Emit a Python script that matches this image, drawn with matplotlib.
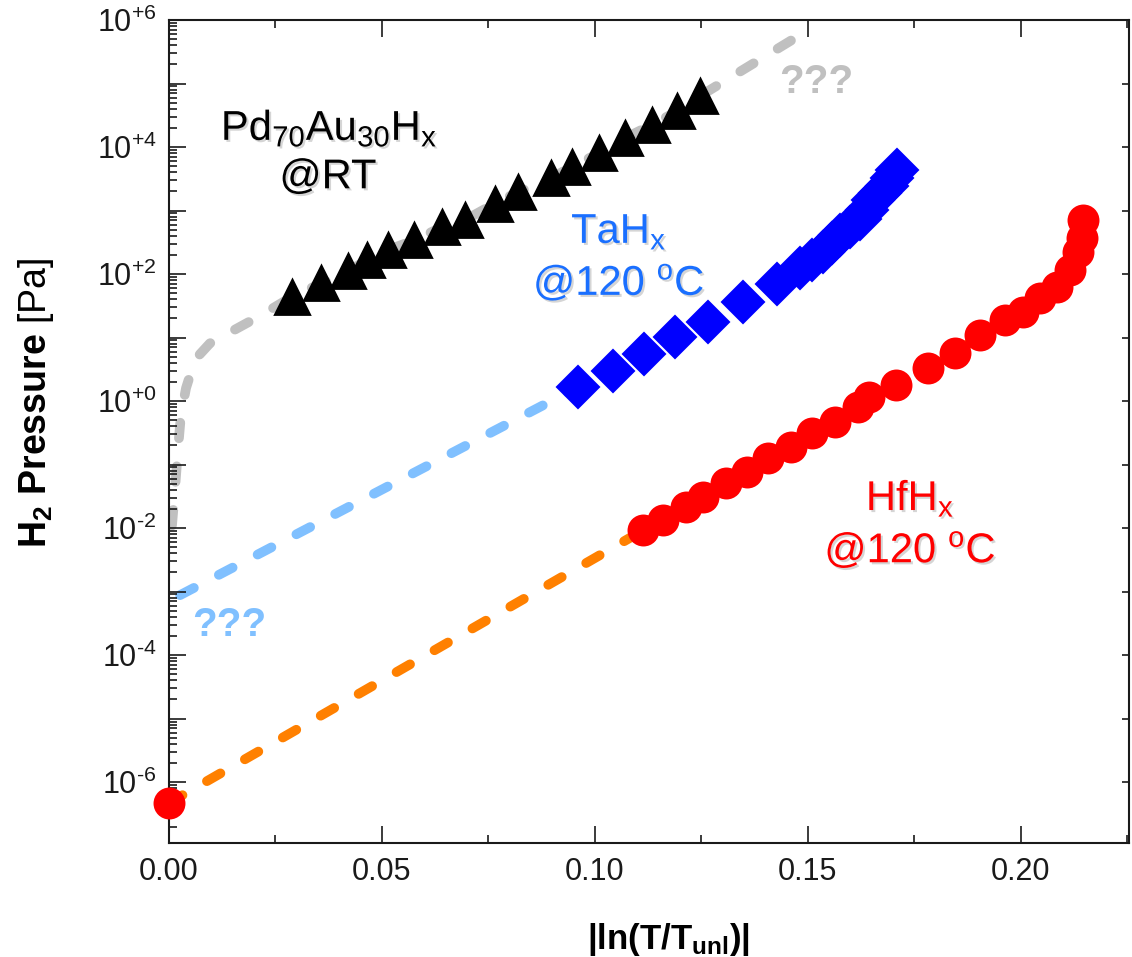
import numpy as np
import matplotlib
matplotlib.use('Agg')
import matplotlib.pyplot as plt
import matplotlib.ticker as mticker
import matplotlib.patheffects as pe

plt.rcParams['font.family'] = ['Liberation Sans', 'DejaVu Sans']
plt.rcParams['mathtext.fontset'] = 'custom'
plt.rcParams['mathtext.rm'] = 'Liberation Sans'
plt.rcParams['mathtext.bf'] = 'Liberation Sans:bold'
plt.rcParams['mathtext.it'] = 'Liberation Sans:italic'

# Pd70Au30Hx at room temperature (black triangles)
pd_x = [0.0289, 0.0357, 0.0420, 0.0465, 0.0514, 0.0575, 0.0641, 0.0695, 0.0765,
        0.0819, 0.0897, 0.0946, 0.1009, 0.1070, 0.1134, 0.1192, 0.1246]
pd_p = [44, 71, 110, 166, 240, 339, 550, 708, 1290,
        1950, 3240, 4900, 7940, 13800, 22400, 36300, 63100]
# grey guide line below and above the measured points
pd_low_x = [0.0007, 0.0014, 0.0021, 0.0028, 0.0040, 0.0061, 0.0096, 0.0148, 0.0214]
pd_low_p = [1.1e-2, 4.0e-2, 0.17, 0.60, 1.6, 4.5, 8.1, 12.6, 22]
pd_high_x = [0.1474]
pd_high_p = [5.4e5]

# TaHx at 120 C (blue diamonds)
ta_x = [0.0960, 0.1042, 0.1115, 0.1188, 0.1265, 0.1347, 0.1427, 0.1481, 0.1509, 0.1535,
        0.1556, 0.1575, 0.1599, 0.1622, 0.1638, 0.1653, 0.1669, 0.1685, 0.1697, 0.1709]
ta_p = [1.66, 2.96, 5.50, 10.2, 17.5, 36.2, 69.7, 124, 166, 222,
        308, 411, 550, 735, 1020, 1460, 1890, 2430, 3250, 4350]
ta_low_x = [0.0026]
ta_low_p = [8.8e-4]

# HfHx at 120 C (red circles)
hf_x = [0.1114, 0.1159, 0.1213, 0.1253, 0.1307, 0.1356, 0.1406, 0.1460, 0.1509, 0.1563,
        0.1617, 0.1644, 0.1707, 0.1783, 0.1846, 0.1904, 0.1963, 0.2005, 0.2045, 0.2085,
        0.2115, 0.2134, 0.2143, 0.2146]
hf_p = [9.3e-3, 1.34e-2, 2.16e-2, 3.11e-2, 5.06e-2, 7.71e-2, 0.125, 0.191, 0.310, 0.472,
        0.813, 1.17, 1.79, 3.27, 5.64, 10.9, 18.9, 25.2, 41.9, 62.4,
        116, 222, 369, 708]
hf_zero_x = [0.0]
hf_zero_p = [4.7e-7]

x_ticks = [0.00, 0.05, 0.10, 0.15, 0.20]
x_tick_labels = ['0.00', '0.05', '0.10', '0.15', '0.20']
y_ticks = [1e-6, 1e-5, 1e-4, 1e-3, 1e-2, 1e-1, 1e0, 1e1, 1e2, 1e3, 1e4, 1e5, 1e6]
y_tick_labels = [r'$\mathregular{10^{‐6}}$', '', r'$\mathregular{10^{‐4}}$', '',
                 r'$\mathregular{10^{‐2}}$', '', r'$\mathregular{10^{+0}}$', '',
                 r'$\mathregular{10^{+2}}$', '', r'$\mathregular{10^{+4}}$', '',
                 r'$\mathregular{10^{+6}}$']

fig = plt.figure(figsize=(11.32, 9.57), dpi=100)
ax = fig.add_axes([169 / 1132, 1 - 843 / 957, 960 / 1132, 823 / 957])

dash_kw = dict(linewidth=7, dashes=(1.6, 2.9), dash_capstyle='round', zorder=1)

# guide lines
ax.plot(pd_low_x + pd_x + pd_high_x, pd_low_p + pd_p + pd_high_p, color='#c0c0c0', **dash_kw)
ax.plot(ta_low_x + ta_x[:1], ta_low_p + ta_p[:1], color='#80c0ff', **dash_kw)
ax.plot(hf_zero_x + hf_x, hf_zero_p + hf_p, color='#ff8000', **dash_kw)

# measured points
ax.plot(pd_x, pd_p, '^', color='black', markersize=25, markeredgewidth=2,
        markeredgecolor='black', linestyle='none', zorder=3)
ax.plot(ta_x, ta_p, 'D', color='#0000ff', markersize=21, markeredgewidth=1.5,
        markeredgecolor='#0000ff', linestyle='none', zorder=3)
ax.plot(hf_x, hf_p, 'o', color='#ff0000', markersize=23, markeredgewidth=0,
        linestyle='none', zorder=3)
ax.plot(hf_zero_x, hf_zero_p, 'o', color='#ff0000', markersize=23, markeredgewidth=0,
        linestyle='none', zorder=3, clip_on=False)

ax.set_yscale('log')
ax.set_xlim(0, 0.2254)
ax.set_ylim(1.1e-7, 1e6)

ax.set_xticks(x_ticks, labels=x_tick_labels)
ax.xaxis.set_minor_locator(mticker.MultipleLocator(0.025))
ax.set_yticks(y_ticks, labels=y_tick_labels)
ax.yaxis.set_minor_locator(mticker.LogLocator(base=10, subs=np.arange(2, 10), numticks=30))
ax.yaxis.set_minor_formatter(mticker.NullFormatter())

ax.tick_params(axis='both', which='both', direction='in', colors='#1a1a1a',
               labelsize=22, width=1.2)
ax.tick_params(axis='x', which='major', length=12, top=True, pad=10)
ax.tick_params(axis='x', which='minor', length=6, top=True)
ax.tick_params(axis='y', which='major', length=12, pad=9)
ax.tick_params(axis='y', which='minor', length=6)
for s in ax.spines.values():
    s.set_linewidth(1.5)
    s.set_color('#1a1a1a')

# right axis: short ticks at decades only
ax2 = ax.twinx()
ax2.set_yscale('log')
ax2.set_ylim(ax.get_ylim())
ax2.set_yticks(y_ticks, labels=['' for _ in y_ticks])
ax2.yaxis.set_minor_locator(mticker.NullLocator())
ax2.tick_params(axis='y', direction='in', length=5, width=1.2, colors='#1a1a1a')
for s in ax2.spines.values():
    s.set_visible(False)

ax.set_ylabel(r'$\mathbf{H_2\ Pressure}$ [Pa]', fontsize=27, color='black')
ax.yaxis.set_label_coords(-0.118, 0.535)
ax.set_xlabel(r'$\mathbf{|ln(T/T_{unl})|}$', fontsize=25, color='black')
ax.xaxis.set_label_coords(0.52, -0.095)

shadow = [pe.SimplePatchShadow(offset=(1.5, -1.5), shadow_rgbFace='#888888', alpha=0.35), pe.Normal()]
txt = dict(fontsize=30, ha='center', va='baseline', path_effects=shadow, zorder=5)
ax.text(0.0376, 10 ** 4.11, r'Pd$_{\mathregular{70}}$Au$_{\mathregular{30}}$H$_{\mathregular{x}}$', color='black', **txt)
ax.text(0.0373, 10 ** 3.35, '@RT', color='black', **txt)
ax.text(0.1056, 10 ** 2.49, r'TaH$_{\mathregular{x}}$', color='#1a6fff', **txt)
ax.text(0.1056, 10 ** 1.67, r'@120 $^{\mathregular{o}}$C', color='#1a6fff', **txt)
ax.text(0.1740, 10 ** -1.72, r'HfH$_{\mathregular{x}}$', color='#ff0000', **txt)
ax.text(0.1740, 10 ** -2.54, r'@120 $^{\mathregular{o}}$C', color='#ff0000', **txt)
ax.text(0.1519, 10 ** 5.02, '???', color='#c0c0c0', fontsize=29, fontweight='bold',
        ha='center', va='center', zorder=5)
ax.text(0.0141, 10 ** -3.53, '???', color='#80c0ff', fontsize=29, fontweight='bold',
        ha='center', va='center', zorder=5)

fig.savefig('out.png', dpi=100)
